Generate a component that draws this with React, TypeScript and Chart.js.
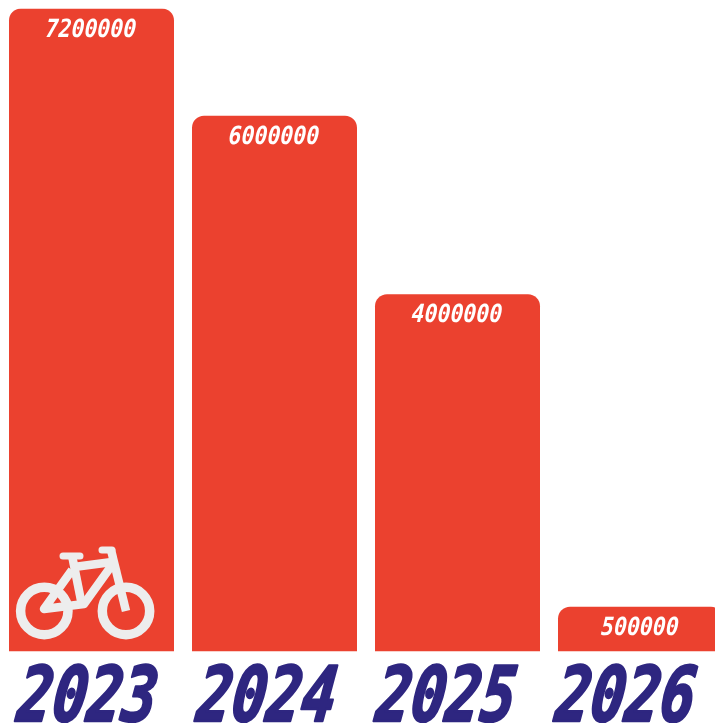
import React, { useEffect, useRef } from "react";
import { Chart, registerables } from "chart.js";

Chart.register(...registerables);

const years = ["2023", "2024", "2025", "2026"];
const amounts = [7200000, 6000000, 4000000, 500000];

const RED = "#EB412F";
const NAVY = "#2E2680";
const ICON = "#EDEDED";

const bikeIcon = {
  id: "bikeIcon",
  afterDatasetsDraw(chart: any) {
    const { ctx } = chart;
    const bar = chart.getDatasetMeta(0).data[0];
    const ox = bar.x - 91.5;
    const oy = bar.base - 651.5;
    ctx.save();
    ctx.translate(ox, oy);
    ctx.strokeStyle = ICON;
    ctx.lineCap = "round";
    ctx.lineJoin = "round";
    ctx.lineWidth = 9.5;
    for (const cx of [44.3, 126]) {
      ctx.beginPath();
      ctx.arc(cx, 611, 23.7, 0, Math.PI * 2);
      ctx.stroke();
    }
    ctx.lineCap = "butt";
    ctx.lineWidth = 8.5;
    const paths = [
      [[72.5, 558], [81.5, 603]],
      [[111, 550], [126, 611]],
      [[74, 567], [112, 562]],
      [[112, 565], [84, 604], [44, 609], [72, 570]],
    ];
    for (const p of paths) {
      ctx.beginPath();
      p.forEach(([x, y], i) => (i ? ctx.lineTo(x, y) : ctx.moveTo(x, y)));
      ctx.stroke();
    }
    ctx.lineCap = "round";
    ctx.lineWidth = 7;
    ctx.beginPath();
    ctx.moveTo(63, 556);
    ctx.lineTo(80, 556);
    ctx.moveTo(102, 550);
    ctx.lineTo(112, 550);
    ctx.stroke();
    ctx.restore();
  },
};

const textMarks = {
  id: "textMarks",
  afterDatasetsDraw(chart: any) {
    const { ctx } = chart;
    const meta = chart.getDatasetMeta(0);
    const xScale = chart.scales.x;

    ctx.save();
    ctx.textAlign = "center";
    ctx.textBaseline = "middle";
    ctx.fillStyle = "#FFFFFF";
    ctx.font = 'italic bold 25px "DejaVu Sans Mono"';
    meta.data.forEach((bar: any, i: number) => {
      ctx.save();
      ctx.translate(bar.x - 0.5, bar.y + 21.5);
      ctx.transform(0.86, 0, -0.06, 1, 0, 0);
      ctx.fillText(String(amounts[i]), 0, 0);
      ctx.restore();
    });
    ctx.restore();

    ctx.save();
    ctx.textAlign = "center";
    ctx.textBaseline = "alphabetic";
    ctx.fillStyle = NAVY;
    ctx.strokeStyle = NAVY;
    ctx.lineWidth = 2.5;
    ctx.lineJoin = "round";
    ctx.font = 'italic bold 76px "DejaVu Sans Mono"';
    years.forEach((year, i) => {
      const px = xScale.getPixelForTick(i) * 0.98 - 4.5;
      ctx.save();
      ctx.translate(px, 721);
      ctx.transform(0.76, 0, -0.12, 1, 0, 0);
      ctx.fillText(year, 0, 0);
      ctx.strokeText(year, 0, 0);
      ctx.restore();
    });
    ctx.restore();
  },
};

export default function App() {
  const ref = useRef<HTMLCanvasElement>(null);
  useEffect(() => {
    const chart = new Chart(ref.current!, {
      type: "bar",
      data: {
        labels: years,
        datasets: [
          {
            data: amounts,
            backgroundColor: RED,
            borderRadius: { topLeft: 12, topRight: 12, bottomLeft: 0, bottomRight: 0 },
            borderSkipped: false,
            categoryPercentage: 1,
            barPercentage: 165 / 183,
          },
        ],
      },
      options: {
        responsive: false,
        animation: false,
        devicePixelRatio: 1,
        layout: { padding: { top: 8.5, bottom: 71.5, left: 0, right: 0 } },
        plugins: { legend: { display: false }, tooltip: { enabled: false }, title: { display: false } },
        scales: {
          x: { display: false, grid: { display: false } },
          y: { display: false, min: 0, max: 7200000 },
        },
      },
      plugins: [bikeIcon, textMarks],
    });
    return () => chart.destroy();
  }, []);
  return (
    <div style={{ position: "fixed", left: 0, top: 0, width: 715, height: 723, overflow: "hidden", background: "#fff" }}>
      <canvas ref={ref} width={732} height={723} style={{ display: "block" }} />
    </div>
  );
}
